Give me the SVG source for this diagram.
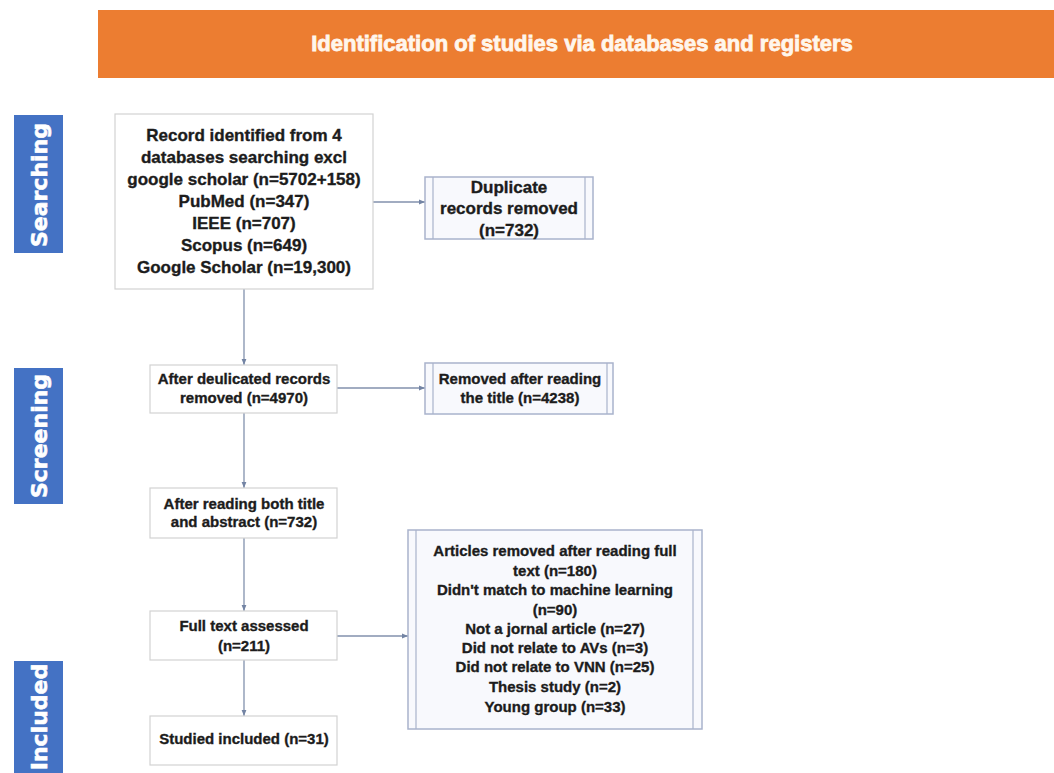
<svg xmlns="http://www.w3.org/2000/svg" width="1054" height="773" viewBox="0 0 1054 773">
<style>
  .t { font-family: "Liberation Sans", Arial, sans-serif; font-weight: bold; fill: #1c1c1c; stroke: #1c1c1c; stroke-width: 0.35; text-anchor: middle; }
  .t17 { font-size: 17px; }
  .t15 { font-size: 15px; }
  .box { fill: #ffffff; stroke: #d2d2d2; stroke-width: 1.2; }
  .rbox { fill: #f8f9fd; stroke: #a9b3cc; stroke-width: 1.5; }
  .rin { stroke: #a9b3cc; stroke-width: 1.2; }
  .lab { fill: #4472c4; }
  .labt { font-family: "DejaVu Sans", Verdana, sans-serif; font-weight: bold; font-size: 22px; fill: #ffffff; stroke: #ffffff; stroke-width: 0.6; text-anchor: middle; }
  .conn { stroke: #8291ad; stroke-width: 1.3; fill: none; marker-end: url(#ah); }
</style>
<defs>
  <marker id="ah" viewBox="0 0 10 10" refX="10" refY="5" markerWidth="6" markerHeight="6" markerUnits="userSpaceOnUse" orient="auto">
    <path d="M0,1 L10,5 L0,9 z" fill="#7384a4"/>
  </marker>
</defs>
<rect width="1054" height="773" fill="#ffffff"/>

<g id="banner">
  <rect x="98" y="10" width="956" height="68" fill="#ec7d31"/>
  <text x="582" y="51" font-family="Liberation Sans, Arial, sans-serif" font-weight="bold" font-size="22" fill="#fff6ec" stroke="#fff6ec" stroke-width="0.8" text-anchor="middle">Identification of studies via databases and registers</text>
</g>

<g id="label-searching">
  <rect class="lab" x="14" y="115" width="49" height="138"/>
  <text class="labt" transform="translate(46.5,185) rotate(-90)" x="0" y="0">Searching</text>
</g>
<g id="label-screening">
  <rect class="lab" x="14" y="368" width="49" height="136"/>
  <text class="labt" transform="translate(46.5,436) rotate(-90)" x="0" y="0">Screening</text>
</g>
<g id="label-included">
  <rect class="lab" x="14" y="661" width="49" height="120"/>
  <text class="labt" transform="translate(46.5,717) rotate(-90)" x="0" y="0">Included</text>
</g>

<g id="connectors">
  <line class="conn" x1="373" y1="202" x2="425" y2="202"/>
  <line class="conn" x1="244" y1="289" x2="244" y2="365"/>
  <line class="conn" x1="337" y1="388" x2="425" y2="388"/>
  <line class="conn" x1="244" y1="413" x2="244" y2="488"/>
  <line class="conn" x1="244" y1="538" x2="244" y2="611"/>
  <line class="conn" x1="337" y1="636" x2="408" y2="636"/>
  <line class="conn" x1="244" y1="660" x2="244" y2="716"/>
</g>

<g id="records-identified">
  <rect class="box" x="115" y="114" width="258" height="175"/>
  <text class="t t17" x="244" y="141">Record identified from 4</text>
  <text class="t t17" x="244" y="163">databases searching excl</text>
  <text class="t t17" x="244" y="185">google scholar (n=5702+158)</text>
  <text class="t t17" x="244" y="207">PubMed (n=347)</text>
  <text class="t t17" x="244" y="229">IEEE (n=707)</text>
  <text class="t t17" x="244" y="251">Scopus (n=649)</text>
  <text class="t t17" x="244" y="273">Google Scholar (n=19,300)</text>
</g>

<g id="duplicates-removed">
  <rect class="rbox" x="425" y="177" width="168" height="62"/>
  <line class="rin" x1="433" y1="177" x2="433" y2="239"/>
  <line class="rin" x1="585" y1="177" x2="585" y2="239"/>
  <text class="t t17" x="509" y="193">Duplicate</text>
  <text class="t t17" x="509" y="214">records removed</text>
  <text class="t t17" x="509" y="236">(n=732)</text>
</g>

<g id="after-dedup">
  <rect class="box" x="150" y="365" width="187" height="48"/>
  <text class="t t15" x="244" y="384">After deulicated records</text>
  <text class="t t15" x="244" y="403">removed (n=4970)</text>
</g>

<g id="removed-title">
  <rect class="rbox" x="425" y="363" width="188" height="51"/>
  <line class="rin" x1="433" y1="363" x2="433" y2="414"/>
  <line class="rin" x1="607" y1="363" x2="607" y2="414"/>
  <text class="t t15" x="520" y="384">Removed after reading</text>
  <text class="t t15" x="520" y="403">the title (n=4238)</text>
</g>

<g id="after-title-abstract">
  <rect class="box" x="150" y="488" width="187" height="50"/>
  <text class="t t15" x="244" y="509">After reading both title</text>
  <text class="t t15" x="244" y="527">and abstract (n=732)</text>
</g>

<g id="full-text">
  <rect class="box" x="150" y="611" width="187" height="49"/>
  <text class="t t15" x="244" y="631">Full text assessed</text>
  <text class="t t15" x="244" y="651">(n=211)</text>
</g>

<g id="studied-included">
  <rect class="box" x="150" y="716" width="187" height="49"/>
  <text class="t t15" x="244" y="744">Studied included (n=31)</text>
</g>

<g id="articles-removed">
  <rect class="rbox" x="408" y="530" width="294" height="199"/>
  <line class="rin" x1="416" y1="530" x2="416" y2="729"/>
  <line class="rin" x1="693" y1="530" x2="693" y2="729"/>
  <text class="t t15" x="555" y="556">Articles removed after reading full</text>
  <text class="t t15" x="555" y="576">text (n=180)</text>
  <text class="t t15" x="555" y="595">Didn't match to machine learning</text>
  <text class="t t15" x="555" y="615">(n=90)</text>
  <text class="t t15" x="555" y="634">Not a jornal article (n=27)</text>
  <text class="t t15" x="555" y="653">Did not relate to AVs (n=3)</text>
  <text class="t t15" x="555" y="672">Did not relate to VNN (n=25)</text>
  <text class="t t15" x="555" y="692">Thesis study (n=2)</text>
  <text class="t t15" x="555" y="712">Young group (n=33)</text>
</g>
</svg>
